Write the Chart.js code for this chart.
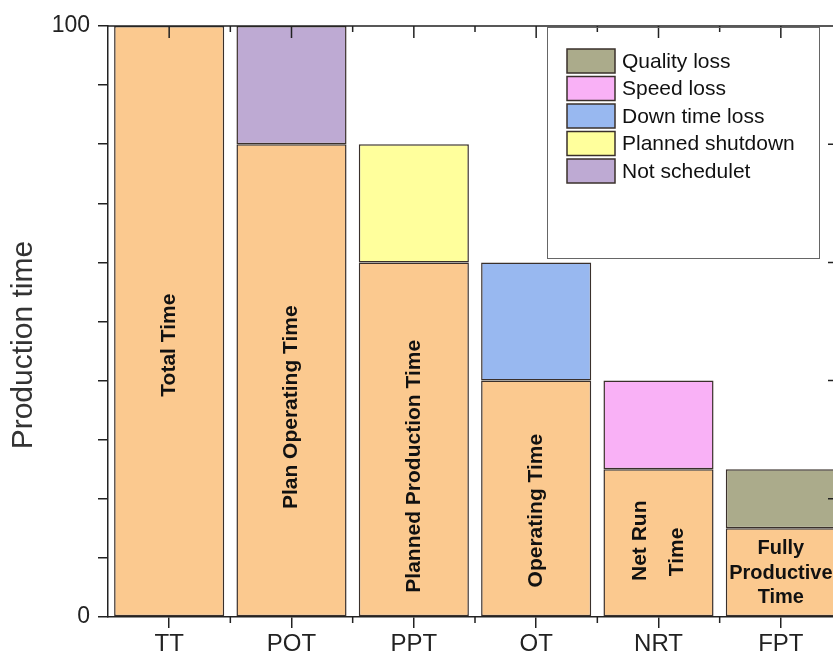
<!DOCTYPE html>
<html>
<head>
<meta charset="utf-8">
<script src="https://cdn.jsdelivr.net/npm/chart.js@4.4.1/dist/chart.umd.min.js"></script>
<style>
    html, body { margin: 0; padding: 0; background: #fff; overflow: hidden; }
    canvas { display: block; }
</style>
</head>
<body>
<canvas id="prod-chart" width="860" height="660"></canvas>
<script>
// production time breakdown
const categories = ['TT', 'POT', 'PPT', 'OT', 'NRT', 'FPT'];
const baseTime = [100, 80, 60, 40, 25, 15];
const notScheduled = [null, 20, null, null, null, null];
const plannedShutdown = [null, null, 20, null, null, null];
const downTimeLoss = [null, null, null, 20, null, null];
const speedLoss = [null, null, null, null, 15, null];
const qualityLoss = [null, null, null, null, null, 10];
const barNames = [['Total Time'], ['Plan Operating Time'], ['Planned Production Time'], ['Operating Time'], ['Net Run', 'Time'], ['Fully', 'Productive', 'Time']];
const yLabeled = [0, 100];
const yTitle = 'Production time';

const FONT = '"Liberation Sans", Arial, sans-serif';
const DARK = '#222';
const EDGE = '#3a302b';

// where the text sits inside each bar (value units), rotated or flat
const textLayout = [
    { at: [46], rotate: true },
    { at: [35.5], rotate: true },
    { at: [25.5], rotate: true },
    { at: [18], rotate: true },
    { at: [12.9, 11.0], rotate: true, gap: 37 },
    { at: [7.4], rotate: false, gap: 24.5 }
];

const barText = {
    id: 'barText',
    afterDatasetsDraw(chart) {
        const ctx = chart.ctx;
        const x = chart.scales.x, y = chart.scales.y;
        ctx.save();
        ctx.fillStyle = '#111';
        ctx.font = 'bold 21px ' + FONT;
        ctx.textAlign = 'center';
        ctx.textBaseline = 'middle';
        barNames.forEach((lines, i) => {
            const lay = textLayout[i];
            const cx = x.getPixelForValue(i);
            const gap = lay.gap || 0;
            lines.forEach((line, k) => {
                const off = (k - (lines.length - 1) / 2) * gap;
                const cy = y.getPixelForValue(lay.at[Math.min(k, lay.at.length - 1)]);
                ctx.save();
                if (lay.rotate) {
                    ctx.translate(cx + off, cy);
                    ctx.rotate(-Math.PI / 2);
                    ctx.fillText(line, 0, 0);
                } else {
                    ctx.font = 'bold 20px ' + FONT;
                    ctx.fillText(line, cx, cy + off);
                }
                ctx.restore();
            });
        });
        ctx.restore();
    }
};

// top / right axis lines, inner ticks, y title and the boxed legend
const frame = {
    id: 'frame',
    afterDraw(chart) {
        const ctx = chart.ctx;
        const a = chart.chartArea;
        const x = chart.scales.x, y = chart.scales.y;
        ctx.save();
        ctx.strokeStyle = DARK;
        ctx.lineWidth = 1.5;
        ctx.beginPath();
        ctx.moveTo(a.left, a.top);
        ctx.lineTo(a.right, a.top);
        ctx.lineTo(a.right, a.bottom);
        ctx.stroke();

        const step = (x.getPixelForValue(1) - x.getPixelForValue(0));
        ctx.beginPath();
        categories.forEach((c, i) => {
            const cx = x.getPixelForValue(i);
            ctx.moveTo(cx, a.top); ctx.lineTo(cx, a.top + 12);
            const bx = cx + step / 2;
            if (i < categories.length - 1) {
                ctx.moveTo(bx, a.top); ctx.lineTo(bx, a.top + 6);
                ctx.moveTo(bx, a.bottom); ctx.lineTo(bx, a.bottom + 6);
            }
        });
        for (let v = 20; v < 100; v += 20) {
            const py = y.getPixelForValue(v);
            ctx.moveTo(a.right, py); ctx.lineTo(a.right - 14, py);
        }
        ctx.stroke();

        // y title, sits a bit below the middle of the axis
        ctx.save();
        ctx.translate(24, y.getPixelForValue(46));
        ctx.rotate(-Math.PI / 2);
        ctx.fillStyle = '#333';
        ctx.font = '30px ' + FONT;
        ctx.textAlign = 'center';
        ctx.textBaseline = 'middle';
        ctx.fillText(yTitle, 0, 0);
        ctx.restore();

        // legend box
        const lx = a.right - 295, ly = a.top + 1, lw = 272, lh = 231;
        ctx.strokeStyle = '#666';
        ctx.lineWidth = 1;
        ctx.strokeRect(lx + 0.5, ly + 0.5, lw, lh);
        const items = chart.data.datasets.slice(1).reverse();
        ctx.font = '21px ' + FONT;
        ctx.textBaseline = 'middle';
        ctx.textAlign = 'left';
        items.forEach((ds, k) => {
            const sy = ly + 22 + k * 27.5;
            ctx.fillStyle = ds.backgroundColor;
            ctx.fillRect(lx + 20, sy, 48, 24);
            ctx.strokeStyle = EDGE;
            ctx.lineWidth = 1.5;
            ctx.strokeRect(lx + 20, sy, 48, 24);
            ctx.fillStyle = '#111';
            ctx.fillText(ds.label, lx + 75, sy + 13);
        });
        ctx.restore();
    }
};

function seg(label, data, color) {
    return {
        label: label,
        data: data,
        backgroundColor: color,
        borderColor: EDGE,
        borderWidth: 1.5,
        borderSkipped: false,
        barPercentage: 0.9,
        categoryPercentage: 1
    };
}

new Chart(document.getElementById('prod-chart'), {
    type: 'bar',
    data: {
        labels: categories,
        datasets: [
            seg('Base', baseTime, '#FBC98F'),
            seg('Not schedulet', notScheduled, '#BEAAD3'),
            seg('Planned shutdown', plannedShutdown, '#FFFF9C'),
            seg('Down time loss', downTimeLoss, '#98B8F0'),
            seg('Speed loss', speedLoss, '#F9B1F6'),
            seg('Quality loss', qualityLoss, '#ABAB8B')
        ]
    },
    options: {
        responsive: false,
        animation: false,
        layout: { padding: { top: 26, right: 18, left: 0, bottom: 0 } },
        plugins: {
            legend: { display: false },
            tooltip: { enabled: false }
        },
        scales: {
            x: {
                stacked: true,
                offset: true,
                grid: { offset: false, drawOnChartArea: false, tickLength: 11, color: DARK, lineWidth: 1.5 },
                border: { display: true, color: DARK, width: 1.5 },
                ticks: { color: DARK, font: { size: 24, family: FONT }, padding: 2 },
                afterFit(s) { s.height = 43; }
            },
            y: {
                stacked: true,
                min: 0,
                max: 100,
                grid: { drawOnChartArea: false, tickLength: 10, color: DARK, lineWidth: 1.5 },
                border: { display: true, color: DARK, width: 1.5 },
                ticks: {
                    stepSize: 10,
                    autoSkip: false,
                    color: DARK,
                    padding: 8,
                    font: { size: 23, family: FONT },
                    callback: v => yLabeled.includes(v) ? v : ''
                },
                afterFit(s) { s.width = 108; }
            }
        }
    },
    plugins: [barText, frame]
});
</script>
</body>
</html>
